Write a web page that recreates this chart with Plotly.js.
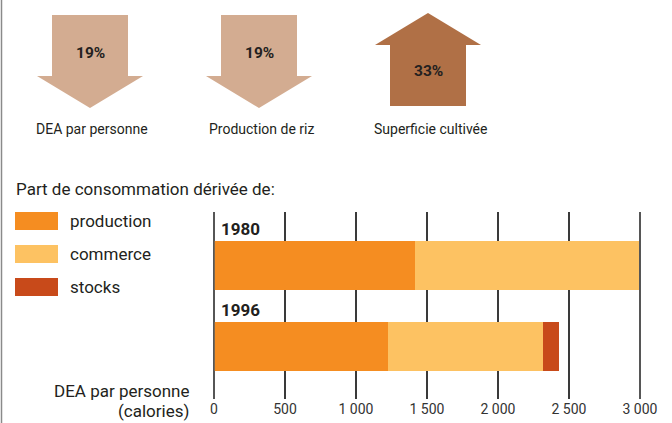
<!DOCTYPE html>
<html lang="fr">
<head>
    <meta charset="UTF-8">
    <title>Part de consommation</title>
    <script src="https://cdn.plot.ly/plotly-3.0.1.min.js"></script>
    <style>
        body { margin: 0; padding: 0; background: #fff; }
        #graphique { width: 672px; height: 423px; }
    </style>
</head>
<body>
    <div id="graphique"></div>
    <script>
        // Données
        const annees = ['1980', '1996'];
        const production = [1415, 1225];
        const commerce = [1580, 1092];
        const stocks = [0, 113];
        const series = ['production', 'commerce', 'stocks'];
        const couleurs = ['#f58d21', '#fdc262', '#c84a1a'];

        const flecheNoms = ['DEA par personne', 'Production de riz', 'Superficie cultivée'];
        const flecheValeurs = ['19%', '19%', '33%'];
        const flecheSens = ['bas', 'bas', 'haut'];
        const xTicks = [0, 500, 1000, 1500, 2000, 2500, 3000];
        const xTickTexte = ['0', '500', '1 000', '1 500', '2 000', '2 500', '3 000'];

        const police = 'Roboto, sans-serif';
        const encre = '#231f20';

        // zone du graphe en pixels : 0 -> 214 px, 3000 -> 640 px
        const L = 200, R = 654, T = 212, B = 399;
        const X0 = 214, X1 = 640;
        const echelle = (X1 - X0) / 3000;
        const px = x => (x - L) / (R - L);
        const py = y => (B - y) / (B - T);

        const traces = [production, commerce, stocks].map((vals, i) => ({
            type: 'bar',
            orientation: 'h',
            name: series[i],
            y: annees,
            x: vals,
            width: 0.6,
            marker: { color: couleurs[i] },
            hoverinfo: 'x+name',
            showlegend: false
        }));

        const shapes = [];
        const annotations = [];

        function texte(x, y, t, ancre, taille) {
            annotations.push({ xref: 'paper', yref: 'paper', x: px(x), y: py(y),
                xanchor: ancre, yanchor: 'middle', text: t, showarrow: false,
                font: { family: police, size: taille, color: encre } });
        }

        // bordure gauche
        shapes.push({ type: 'line', xref: 'paper', yref: 'paper',
            x0: px(1.5), x1: px(1.5), y0: py(0), y1: py(423),
            line: { color: '#8a8a8a', width: 1.5 } });

        // lignes de bord de l'échelle (0 et 3000), en fins rectangles
        [X0, X1].forEach(v => {
            shapes.push({ type: 'rect', xref: 'paper', yref: 'paper', layer: 'above',
                x0: px(v - 0.8), x1: px(v + 0.8), y0: py(T), y1: py(B),
                fillcolor: '#5e5e5e', line: { width: 0 } });
        });

        // flèches
        const centres = [90, 259, 428];
        flecheNoms.forEach((nom, i) => {
            const c = centres[i];
            let pts, couleur, yTexte;
            if (flecheSens[i] === 'bas') {
                pts = [[c - 38, 15], [c + 38, 15], [c + 38, 76], [c + 53, 76], [c, 108], [c - 53, 76], [c - 38, 76]];
                couleur = '#d3ac91';
                yTexte = 53;
            } else {
                pts = [[c - 38, 106], [c + 38, 106], [c + 38, 45], [c + 53, 45], [c, 13], [c - 53, 45], [c - 38, 45]];
                couleur = '#b07046';
                yTexte = 71;
            }
            const path = 'M ' + pts.map(p => px(p[0]) + ',' + py(p[1])).join(' L ') + ' Z';
            shapes.push({ type: 'path', xref: 'paper', yref: 'paper', path: path,
                fillcolor: couleur, line: { width: 0 } });
            texte(c, yTexte, '<b>' + flecheValeurs[i] + '</b>', 'center', 15.5);
            texte(c + 2, 129, nom, 'center', 14);
        });

        // légende
        texte(14, 189, 'Part de consommation dérivée de:', 'left', 17);
        const legY = [221, 254, 287];
        series.forEach((s, i) => {
            shapes.push({ type: 'rect', xref: 'paper', yref: 'paper',
                x0: px(15), x1: px(58), y0: py(legY[i] - 9), y1: py(legY[i] + 9),
                fillcolor: couleurs[i], line: { width: 0 } });
            texte(68, legY[i], s, 'left', 17);
        });

        // années
        annees.forEach((a, i) => {
            annotations.push({ xref: 'x', yref: 'y', x: 0, y: i, xanchor: 'left', yanchor: 'middle',
                xshift: 5, yshift: 36, text: '<b>' + a + '</b>', showarrow: false,
                font: { family: police, size: 17, color: encre } });
        });

        // titre de l'axe
        texte(191, 391, 'DEA par personne', 'right', 17);
        texte(191, 411, '(calories)', 'right', 17);

        const layout = {
            width: 672,
            height: 423,
            margin: { l: L, r: 672 - R, t: T, b: 423 - B, pad: 0 },
            barmode: 'stack',
            paper_bgcolor: '#fff',
            plot_bgcolor: '#fff',
            xaxis: {
                range: [-(X0 - L) / echelle, 3000 + (R - X1) / echelle],
                tickvals: xTicks,
                ticktext: xTickTexte,
                showgrid: true,
                gridcolor: '#3a3a3a',
                gridwidth: 1.3,
                zeroline: false,
                showline: false,
                ticks: '',
                tickfont: { family: police, size: 14, color: '#333' },
                fixedrange: true
            },
            yaxis: {
                type: 'category',
                range: [1.65, -0.66],
                showticklabels: false,
                showgrid: false,
                zeroline: false,
                showline: false,
                ticks: '',
                fixedrange: true
            },
            shapes: shapes,
            annotations: annotations,
            showlegend: false
        };

        Plotly.newPlot('graphique', traces, layout, { displayModeBar: false, staticPlot: true });
    </script>
</body>
</html>
